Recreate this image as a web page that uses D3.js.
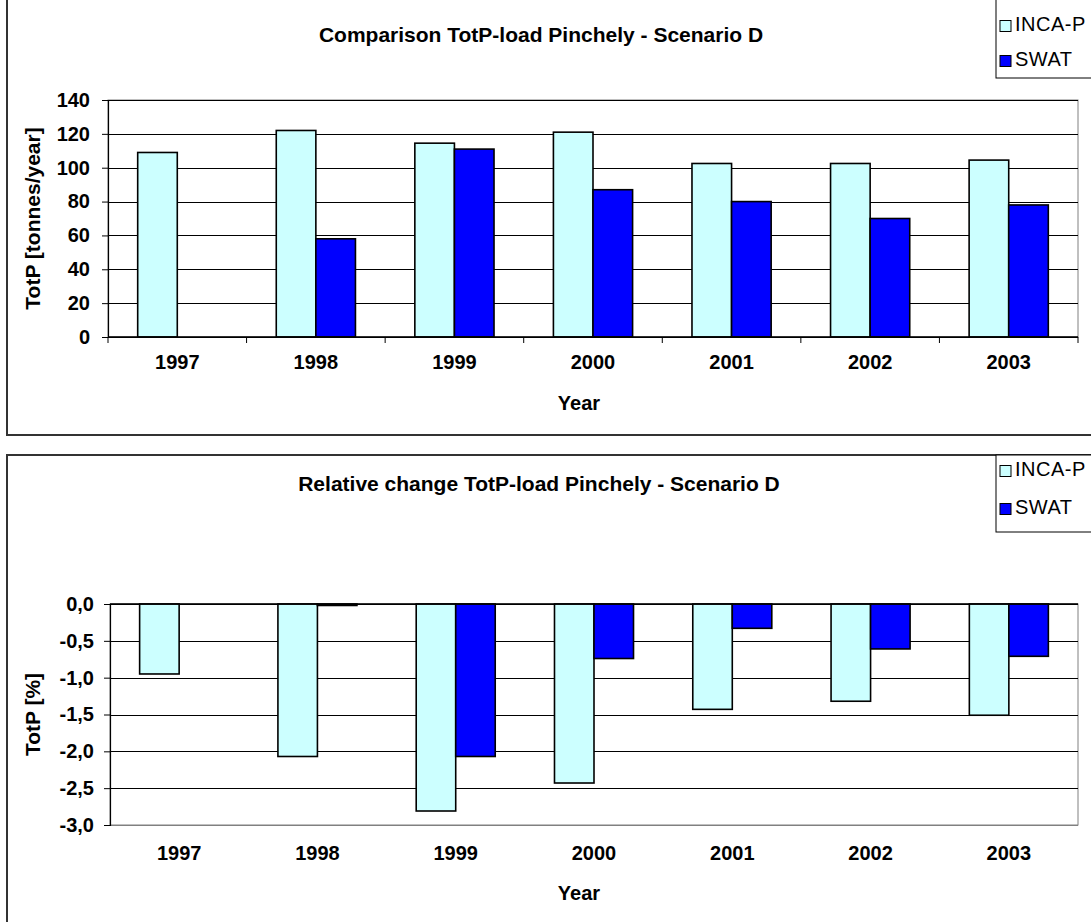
<!DOCTYPE html>
<html>
<head>
<meta charset="utf-8">
<script src="https://cdn.jsdelivr.net/npm/d3@7"></script>
<style>
  html, body { margin: 0; padding: 0; background: #ffffff; }
  svg { display: block; }
  text { font-family: Arial, "Liberation Sans", sans-serif; }
</style>
</head>
<body>
<svg id="chart" width="1091" height="922"></svg>
<script>
// ---- data ----
const years = ["1997", "1998", "1999", "2000", "2001", "2002", "2003"];
const seriesNames = ["INCA-P", "SWAT"];
const incaLoad = [109, 122, 114.5, 121, 102.5, 102.5, 104.5];
const swatLoad = [null, 58, 111, 87, 80, 70, 78];
const incaChange = [-0.95, -2.07, -2.81, -2.43, -1.43, -1.32, -1.51];
const swatChange = [null, -0.02, -2.07, -0.74, -0.33, -0.61, -0.71];
const loadTicks = [0, 20, 40, 60, 80, 100, 120, 140];
const changeTicks = [0, -0.5, -1, -1.5, -2, -2.5, -3];
const colors = ["#CCFFFF", "#0000FF"];

const svg = d3.select("#chart");
const fmtComma = d => d3.format(".1f")(d).replace(".", ",").replace("−", "-");

function panel(cfg) {
  const g = svg.append("g");
  // outer chart border
  g.append("rect")
    .attr("x", 7).attr("y", cfg.top).attr("width", 1110).attr("height", cfg.height)
    .attr("fill", "#fff").attr("stroke", "#333").attr("stroke-width", 2);

  const x0 = d3.scaleBand().domain(years).range([cfg.left, cfg.right]).paddingInner(0).paddingOuter(0);
  const x1 = d3.scaleBand().domain(seriesNames).range([0, x0.bandwidth()]).paddingInner(0).paddingOuter(0.75);
  const y = d3.scaleLinear().domain(cfg.domain).range([cfg.yBottom, cfg.yTop]);

  // plot area frame (right + bottom grey)
  g.append("rect")
    .attr("x", cfg.left).attr("y", cfg.yTop)
    .attr("width", cfg.right - cfg.left).attr("height", cfg.yBottom - cfg.yTop)
    .attr("fill", "#fff").attr("stroke", "#808080").attr("stroke-width", 1);

  // gridlines
  g.append("g").selectAll("line").data(cfg.ticks).join("line")
    .attr("x1", cfg.left).attr("x2", cfg.right)
    .attr("y1", d => Math.round(y(d)) + 0.5).attr("y2", d => Math.round(y(d)) + 0.5)
    .attr("stroke", d => (d === cfg.domain[0] && cfg.domain[0] < 0) ? "#808080" : "#000")
    .attr("stroke-width", 1);

  // bars
  const rows = years.map((yr, i) => ({ yr, vals: [cfg.a[i], cfg.b[i]] }));
  const grp = g.append("g").selectAll("g").data(rows).join("g")
    .attr("transform", d => `translate(${x0(d.yr)},0)`);
  grp.selectAll("rect")
    .data(d => d.vals.map((v, k) => ({ v, k })).filter(o => o.v !== null))
    .join("rect")
    .attr("x", o => x1(seriesNames[o.k]))
    .attr("width", x1.bandwidth())
    .attr("y", o => Math.min(y(o.v), y(0)))
    .attr("height", o => Math.max(Math.abs(y(o.v) - y(0)), 1))
    .attr("fill", o => colors[o.k])
    .attr("stroke", "#000").attr("stroke-width", 1.6);

  // y axis
  const yAxis = d3.axisLeft(y).tickValues(cfg.ticks).tickSize(6).tickPadding(cfg.tickPad).tickFormat(cfg.fmt);
  const ya = g.append("g").attr("transform", `translate(${cfg.left},0)`).call(yAxis);
  ya.select(".domain").attr("stroke", "#000").attr("stroke-width", 1.2);
  ya.selectAll(".tick line").attr("stroke", "#000");
  ya.selectAll(".tick text").attr("font-size", 20).attr("font-weight", "bold").attr("fill", "#000")
    .attr("font-family", "Arial, 'Liberation Sans', sans-serif");

  // x axis line at zero
  const zeroY = y(0);
  g.append("line").attr("x1", cfg.left).attr("x2", cfg.right)
    .attr("y1", zeroY).attr("y2", zeroY).attr("stroke", "#000").attr("stroke-width", 1.5);
  if (cfg.xTicks) {
    const bounds = years.map(yr => x0(yr)).concat([cfg.right]);
    g.append("g").selectAll("line").data(bounds).join("line")
      .attr("x1", d => d).attr("x2", d => d)
      .attr("y1", zeroY).attr("y2", zeroY + 6).attr("stroke", "#000");
  }

  // category labels
  g.append("g").selectAll("text").data(years).join("text")
    .attr("x", d => x0(d) + x0.bandwidth() / 2)
    .attr("y", cfg.labelY)
    .attr("text-anchor", "middle").attr("dominant-baseline", "middle")
    .attr("font-size", 20).attr("font-weight", "bold")
    .text(d => d);

  // axis titles
  g.append("text").attr("x", cfg.xTitleX).attr("y", cfg.xTitleY)
    .attr("text-anchor", "middle").attr("dominant-baseline", "middle")
    .attr("font-size", 20).attr("font-weight", "bold").text("Year");
  g.append("text")
    .attr("transform", `translate(34,${(cfg.yTop + cfg.yBottom) / 2}) rotate(-90)`)
    .attr("text-anchor", "middle").attr("dominant-baseline", "middle")
    .attr("font-size", 21).attr("font-weight", "bold").text(cfg.yTitle);

  // chart title
  g.append("text").attr("x", cfg.titleX).attr("y", cfg.titleY)
    .attr("text-anchor", "middle").attr("dominant-baseline", "middle")
    .attr("font-size", 21).attr("font-weight", "bold").text(cfg.title);

  // legend
  g.append("rect").attr("x", 996).attr("y", cfg.top).attr("width", 120).attr("height", cfg.legendBottom - cfg.top)
    .attr("fill", "#fff").attr("stroke", "#000").attr("stroke-width", 1);
  const lg = g.append("g").selectAll("g").data(seriesNames).join("g")
    .attr("transform", (d, i) => `translate(1000,${cfg.legendY[i]})`);
  lg.append("rect").attr("x", 0).attr("y", -5.5).attr("width", 11).attr("height", 11)
    .attr("fill", (d, i) => colors[i]).attr("stroke", "#000").attr("stroke-width", 1);
  lg.append("text").attr("x", 15).attr("y", 0).attr("dominant-baseline", "middle")
    .attr("font-size", 20).attr("letter-spacing", 0.5).text(d => d);
}

panel({
  top: -2, height: 437, left: 108, right: 1078, yTop: 100, yBottom: 337,
  domain: [0, 140], ticks: loadTicks, fmt: d3.format("d"), tickPad: 12,
  a: incaLoad, b: swatLoad, xTicks: true,
  labelY: 364, xTitleX: 579, xTitleY: 405,
  yTitle: "TotP [tonnes/year]",
  title: "Comparison TotP-load Pinchely - Scenario D", titleX: 541, titleY: 36,
  legendBottom: 78, legendY: [26, 61]
});

panel({
  top: 455, height: 480, left: 110, right: 1078, yTop: 604, yBottom: 825,
  domain: [-3, 0], ticks: changeTicks, fmt: fmtComma, tickPad: 10,
  a: incaChange, b: swatChange, xTicks: false,
  labelY: 855, xTitleX: 579, xTitleY: 895,
  yTitle: "TotP [%]",
  title: "Relative change TotP-load Pinchely - Scenario D", titleX: 539, titleY: 485,
  legendBottom: 532, legendY: [471, 509]
});
</script>
</body>
</html>
